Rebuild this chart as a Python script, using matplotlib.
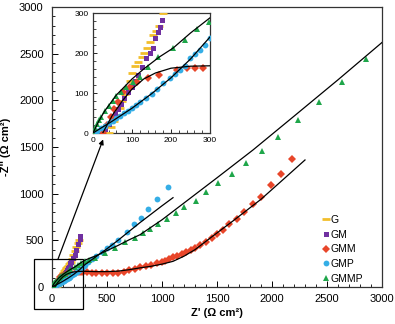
import matplotlib
matplotlib.use("Agg")
import matplotlib.pyplot as plt
from matplotlib.patches import Rectangle
from matplotlib.ticker import MultipleLocator

plt.rcParams['font.family'] = ['Liberation Sans', 'DejaVu Sans']

# ---- data (Z' , -Z'') in ohm cm2 ----
G_x = [40, 47, 54, 61, 68, 75, 82, 88, 94, 100, 108, 116, 125, 131, 138, 146, 154, 162, 169, 180, 192, 205, 218, 232, 245]
G_y = [0, 15, 30, 45, 62, 80, 97, 112, 130, 150, 168, 178, 190, 200, 212, 228, 245, 256, 267, 300, 340, 385, 425, 470, 505]

GM_x = [25, 32, 40, 48, 56, 64, 72, 80, 90, 99, 108, 116, 125, 137, 145, 153, 160, 167, 172, 177, 190, 206, 222, 238, 250, 258]
GM_y = [0, 10, 22, 35, 48, 60, 73, 88, 102, 116, 130, 145, 166, 187, 200, 212, 237, 252, 266, 282, 310, 345, 395, 460, 515, 550]

GMM_x = [25, 35, 45, 55, 65, 77, 95, 113, 140, 169, 215, 241, 262, 282, 320, 360, 400, 450, 500, 550, 600, 650, 700,
         750, 800, 850, 900, 950, 1000, 1027, 1064, 1100, 1136, 1182, 1218, 1264, 1300, 1345, 1400, 1455, 1500, 1555,
         1609, 1682, 1745, 1830, 1900, 1991, 2082, 2182]
GMM_y = [0, 20, 40, 60, 78, 102, 115, 127, 137, 145, 157, 162, 162, 162, 158, 155, 152, 148, 146, 150, 155, 165, 178,
         193, 210, 225, 240, 255, 268, 279, 300, 321, 332, 354, 375, 397, 418, 450, 482, 522, 568, 611,
         673, 729, 800, 889, 968, 1093, 1211, 1371]

GMP_x = [0, 10, 20, 30, 40, 50, 60, 70, 80, 90, 100, 110, 120, 135, 150, 165, 180, 197, 210, 223, 236, 249, 262, 274, 287,
         300, 330, 365, 400, 450, 500, 545, 600, 682, 745, 809, 873, 955, 1055]
GMP_y = [0, 6, 12, 18, 24, 30, 37, 43, 50, 56, 62, 69, 77, 88, 98, 110, 124, 138, 147, 158, 168, 187, 198, 207, 220,
         237, 265, 300, 335, 375, 415, 450, 504, 590, 675, 739, 836, 943, 1071]

GMMP_x = [0, 5, 10, 15, 20, 30, 40, 50, 60, 72, 85, 103, 121, 141, 167, 205, 236, 267, 297, 340, 391, 482, 573, 664,
          750, 827, 891, 964, 1045, 1127, 1200, 1309, 1400, 1509, 1636, 1764, 1909, 2055, 2236, 2427, 2636, 2855]
GMMP_y = [0, 12, 22, 32, 40, 55, 68, 80, 92, 103, 115, 127, 140, 165, 190, 213, 232, 260, 277, 292, 315, 364, 418, 482,
          530, 579, 621, 675, 729, 793, 857, 921, 1018, 1114, 1211, 1329, 1457, 1607, 1789, 1982, 2196, 2443]

# ---- equivalent-circuit fits ----
GMM_fit_x = [25, 50, 75, 100, 130, 160, 200, 250, 300, 400, 500, 600, 700, 800, 900, 1000, 1100, 1200, 1300, 1450, 1650, 1900, 2100, 2300]
GMM_fit_y = [0, 45, 80, 110, 135, 150, 162, 167, 168, 165, 165, 170, 185, 205, 222, 245, 275, 330, 400, 535, 712, 940, 1150, 1361]

GMP_fit_x = [0, 50, 100, 150, 200, 250, 300, 400, 500, 600, 700, 800, 900, 1000, 1100]
GMP_fit_y = [0, 30, 62, 98, 138, 185, 240, 325, 410, 500, 595, 690, 780, 870, 957]

GMMP_fit_x = [0, 15, 30, 60, 100, 130, 170, 205, 250, 300, 400, 500, 600, 700, 800, 1000, 1200, 1500, 1827, 2200, 2600, 3000]
GMMP_fit_y = [0, 30, 55, 95, 135, 160, 190, 212, 250, 288, 335, 390, 445, 505, 560, 720, 900, 1170, 1468, 1830, 2220, 2620]

series = [
    ("G", G_x, G_y, dict(marker='_', color='#F2BE2C', ms=6, mew=2.0)),
    ("GM", GM_x, GM_y, dict(marker='s', color='#7030A0', ms=3.6, mew=0)),
    ("GMM", GMM_x, GMM_y, dict(marker='D', color='#E8462A', ms=3.8, mew=0)),
    ("GMP", GMP_x, GMP_y, dict(marker='o', color='#35AEE6', ms=4.2, mew=0)),
    ("GMMP", GMMP_x, GMMP_y, dict(marker='^', color='#1FA64A', ms=4.5, mew=0)),
]
fits = [(GMM_fit_x, GMM_fit_y), (GMP_fit_x, GMP_fit_y), (GMMP_fit_x, GMMP_fit_y)]

fig = plt.figure(figsize=(3.95, 3.24), dpi=100)
ax = fig.add_axes([52/395, 37/324, 330/395, 280/324])

for name, x, y, st in series:
    ax.plot(x, y, linestyle='none', label=name, zorder=3, **st)
for fx, fy in fits:
    ax.plot(fx, fy, color='black', lw=0.9, zorder=4)

ax.set_xlim(0, 3000)
ax.set_ylim(0, 3000)
ax.xaxis.set_major_locator(MultipleLocator(500))
ax.yaxis.set_major_locator(MultipleLocator(500))
ax.xaxis.set_minor_locator(MultipleLocator(100))
ax.yaxis.set_minor_locator(MultipleLocator(100))
ax.tick_params(which='both', direction='in', top=False, right=False, labelsize=8)
ax.tick_params(which='major', length=4, width=0.7)
ax.tick_params(which='minor', length=2.5, width=0.6)
ax.tick_params(axis='x', pad=5)
ax.tick_params(axis='y', pad=6)
for s in ax.spines.values():
    s.set_linewidth(0.9)
    s.set_color('#333333')
ax.set_xlabel("Z' (\u03a9 cm\u00b2)", fontsize=8, fontweight='bold')
ax.set_ylabel("-Z'' (\u03a9 cm\u00b2)", fontsize=8, fontweight='bold')
ax.xaxis.set_label_coords(0.5, -0.075)
ax.yaxis.set_label_coords(-0.125, 0.5)

leg = ax.legend(loc='lower left', bbox_to_anchor=(0.818, 0.012), frameon=False, fontsize=7.5,
                handlelength=0.7, handletextpad=0.15, labelspacing=0.45, borderpad=0, borderaxespad=0,
                numpoints=1)

# zoom box around origin
ax.add_patch(Rectangle((-164, -236), 446, 536, fill=False, edgecolor='black', lw=0.9, clip_on=False, zorder=5))

# inset
axin = fig.add_axes([93/395, (324-133)/324, 117/395, 120/324])
for name, x, y, st in series:
    axin.plot(x, y, linestyle='none', zorder=3, **st)
for fx, fy in fits:
    axin.plot(fx, fy, color='black', lw=0.9, zorder=4)
axin.set_xlim(0, 300)
axin.set_ylim(0, 300)
axin.xaxis.set_major_locator(MultipleLocator(100))
axin.yaxis.set_major_locator(MultipleLocator(100))
axin.xaxis.set_minor_locator(MultipleLocator(20))
axin.yaxis.set_minor_locator(MultipleLocator(20))
axin.tick_params(which='both', direction='in', top=False, right=False, labelsize=6)
axin.tick_params(which='major', length=3, width=0.6, pad=3)
axin.tick_params(which='minor', length=2, width=0.5)
for s in axin.spines.values():
    s.set_linewidth(0.9)
    s.set_color('#333333')

# arrow from box to inset
ax.annotate("", xy=(26, -16), xycoords=axin.transData, xytext=(55, 300), textcoords=ax.transData,
            arrowprops=dict(arrowstyle='-|>', color='black', lw=0.9, mutation_scale=7, shrinkA=0, shrinkB=0),
            annotation_clip=False, zorder=6)

fig.savefig("out.png", dpi=100)
